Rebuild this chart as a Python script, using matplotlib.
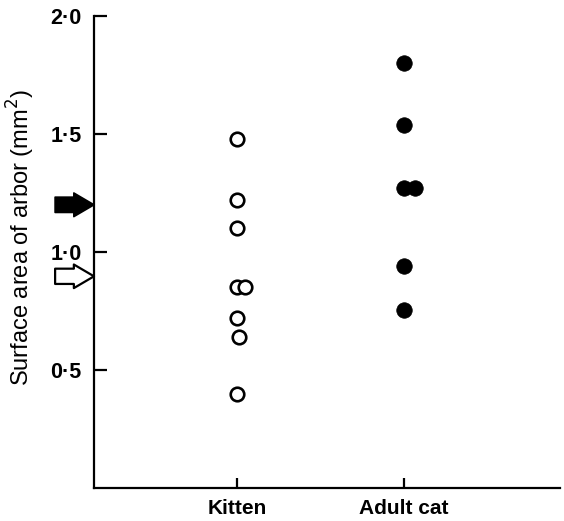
import matplotlib
matplotlib.use("Agg")
import matplotlib.pyplot as plt

# --- data ---
groups = ["Kitten", "Adult cat"]
group_pos = [1, 2]

kitten_x = [1.0, 1.0, 1.0, 1.0, 1.05, 1.0, 1.01, 1.0]
kitten_y = [1.48, 1.22, 1.10, 0.85, 0.85, 0.72, 0.64, 0.40]

adult_x = [2.0, 2.0, 2.0, 2.066, 2.0, 2.0]
adult_y = [1.80, 1.54, 1.27, 1.27, 0.94, 0.755]

adult_mean = 1.20    # filled arrow
kitten_mean = 0.897  # open arrow

yticks = [0.5, 1.0, 1.5, 2.0]
ytick_labels = ["0\u00b75", "1\u00b70", "1\u00b75", "2\u00b70"]

plt.rcParams["font.family"] = ["Liberation Sans", "DejaVu Sans"]

fig = plt.figure(figsize=(5.64, 5.21), dpi=100)
ax = fig.add_axes([94 / 564, 1 - 488 / 521, (560 - 94) / 564, (488 - 16) / 521])

ax.scatter(kitten_x, kitten_y, s=95, facecolors="white", edgecolors="black",
           linewidths=1.9, zorder=3, clip_on=False)
ax.scatter(adult_x, adult_y, s=125, facecolors="black", edgecolors="black",
           linewidths=0.5, zorder=3, clip_on=False)

ax.set_xlim(0.144, 2.934)
ax.set_ylim(0, 2.0)

for side in ["top", "right"]:
    ax.spines[side].set_visible(False)
for side in ["left", "bottom"]:
    ax.spines[side].set_linewidth(1.6)

ax.set_yticks(yticks)
ax.set_yticklabels(ytick_labels, fontsize=15.5, fontweight="bold")
ax.set_xticks(group_pos)
ax.set_xticklabels(groups, fontsize=15, fontweight="bold")
ax.tick_params(axis="y", direction="in", length=9, width=1.6, pad=9)
ax.tick_params(axis="x", direction="in", length=7, width=1.6, pad=8)

ax.set_ylabel("Surface area of arbor (mm$^2$)", fontsize=17)
ax.yaxis.set_label_coords(-0.122, 0.53)

# mean arrows just outside the y axis
tr = ax.get_yaxis_transform()
arrow_style = "simple,head_length=1.45,head_width=1.7,tail_width=1.1"
ax.annotate("", xy=(0, adult_mean), xycoords=tr,
            xytext=(-28, 0), textcoords="offset points",
            arrowprops=dict(arrowstyle=arrow_style, mutation_scale=10,
                            fc="black", ec="black", lw=1.2,
                            shrinkA=0, shrinkB=0),
            annotation_clip=False)
ax.annotate("", xy=(0, kitten_mean), xycoords=tr,
            xytext=(-28, 0), textcoords="offset points",
            arrowprops=dict(arrowstyle=arrow_style, mutation_scale=10,
                            fc="white", ec="black", lw=1.6,
                            shrinkA=0, shrinkB=0),
            annotation_clip=False)

fig.savefig("out.png", dpi=100)
